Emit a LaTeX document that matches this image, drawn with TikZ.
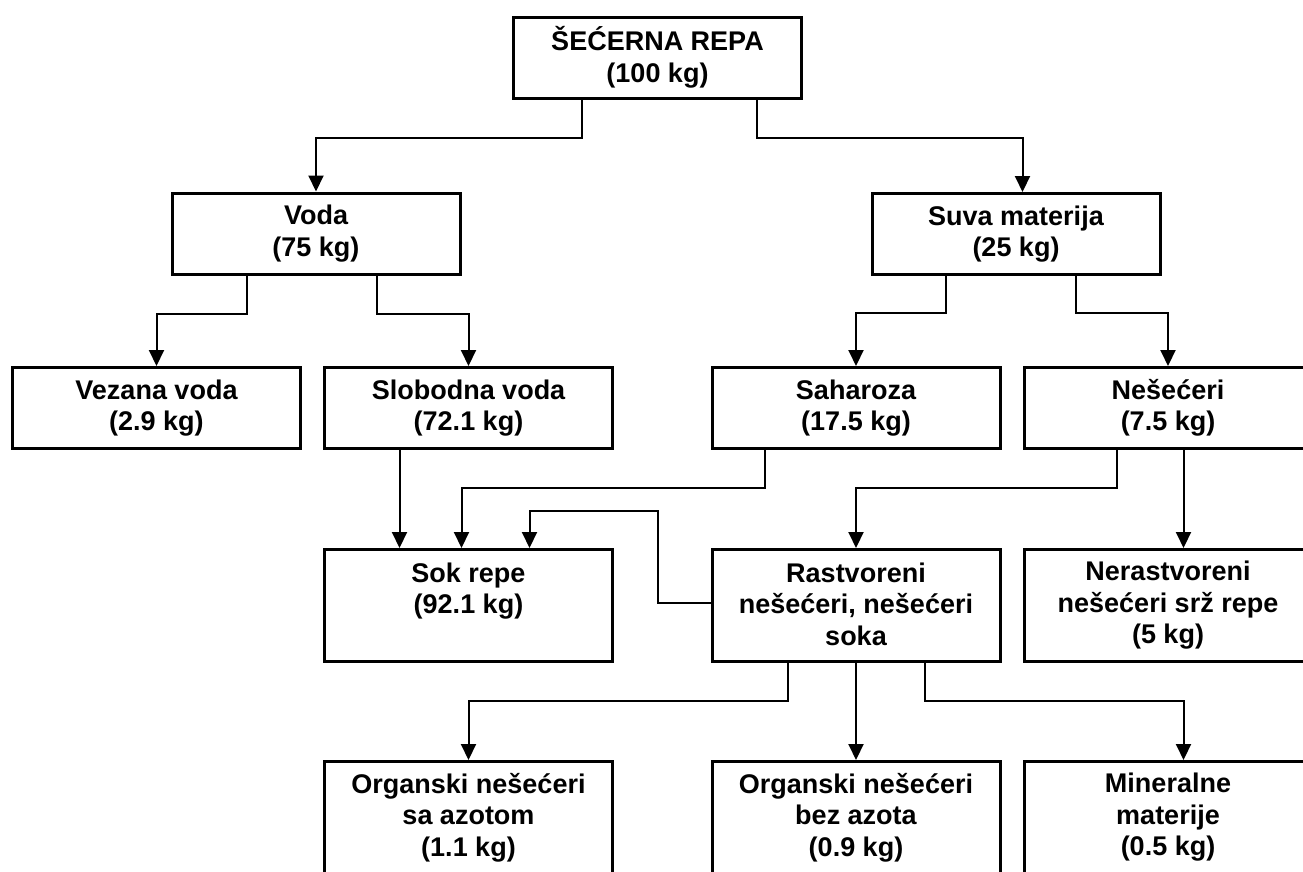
\documentclass[tikz,border=0pt]{standalone}
\usepackage{fontspec}
\setmainfont{Liberation Sans}
\usepackage{tikz}
\usetikzlibrary{arrows.meta,positioning}
\newcommand\boxfont{\fontsize{27}{31.5}\selectfont\bfseries}
\begin{document}
\begin{tikzpicture}[
  x=1pt,y=-1pt,
  box/.style={draw,line width=3pt,minimum width=288pt,minimum height=81pt,inner sep=0pt,align=center,font=\boxfont,
    execute at begin node={\rule{0pt}{28pt}},execute at end node={\rule[-3pt]{0pt}{0pt}}},
  tallbox/.style={box,minimum height=112pt},
  arr/.style={-{Triangle[length=16pt,width=15pt]},line width=2pt}
]
\fill[white] (0,0) rectangle (1303,871);
\useasboundingbox (0,0) rectangle (1303,871);
\node[box] (repa) at (657.5,57.5) {ŠEĆERNA REPA\\(100 kg)};
\node[box] (voda) at (316,233.5) {Voda\\(75 kg)};
\node[box] (suva) at (1016,234) {Suva materija\\(25 kg)};
\node[box] (vezana) at (156.5,408) {Vezana voda\\(2.9 kg)};
\node[box,right=21pt of vezana] (slobodna) {Slobodna voda\\(72.1 kg)};
\node[box,right=96.5pt of slobodna] (saharoza) {Saharoza\\(17.5 kg)};
\node[box,right=21pt of saharoza] (nesec) {Nešećeri\\(7.5 kg)};
\node[tallbox,below=98pt of slobodna] (sok) {Sok repe\\(92.1 kg)\\};
\node[tallbox,below=98pt of saharoza] (rastv) {Rastvoreni\\nešećeri, nešećeri\\soka};
\node[tallbox,below=98pt of nesec] (nerastv) {Nerastvoreni\\nešećeri srž repe\\(5 kg)};
\node[tallbox,below=97pt of sok] (org1) {Organski nešećeri\\sa azotom\\(1.1 kg)};
\node[tallbox,below=97pt of rastv] (org2) {Organski nešećeri\\bez azota\\(0.9 kg)};
\node[tallbox,below=97pt of nerastv] (mineral) {Mineralne\\materije\\(0.5 kg)};
% sugar beet splits
\draw[arr] ([xshift=-75.5pt]repa.south) -- ++(0,38) -| (voda.north);
\draw[arr] ([xshift=99.5pt]repa.south) -- ++(0,38) -| ([xshift=6.5pt]suva.north);
\draw[arr] ([xshift=-69pt]voda.south) -- ++(0,38) -| (vezana.north);
\draw[arr] ([xshift=61pt]voda.south) -- ++(0,38) -| (slobodna.north);
\draw[arr] ([xshift=-70pt]suva.south) -- ++(0,37) -| (saharoza.north);
\draw[arr] ([xshift=60pt]suva.south) -- ++(0,37) -| (nesec.north);
% into beet juice
\draw[arr] ([xshift=-69pt]slobodna.south) -- ([xshift=-69pt]sok.north);
\draw[arr] ([xshift=-91pt]saharoza.south) -- ++(0,38) -| ([xshift=-7pt]sok.north);
\draw[arr] ([xshift=-51.5pt]nesec.south) -- ++(0,38) -| (rastv.north);
\draw[arr] ([xshift=15.5pt]nesec.south) -- ([xshift=15.5pt]nerastv.north);
\draw[arr] ([yshift=3pt]rastv.west) -- ++(-53,0) -- ++(0,-92) -| ([xshift=61pt]sok.north);
% non-sugars
\draw[arr] ([xshift=-68pt]rastv.south) -- ++(0,38) -| (org1.north);
\draw[arr] (rastv.south) -- (org2.north);
\draw[arr] ([xshift=68.5pt]rastv.south) -- ++(0,38) -| ([xshift=15.5pt]mineral.north);
\end{tikzpicture}
\end{document}
